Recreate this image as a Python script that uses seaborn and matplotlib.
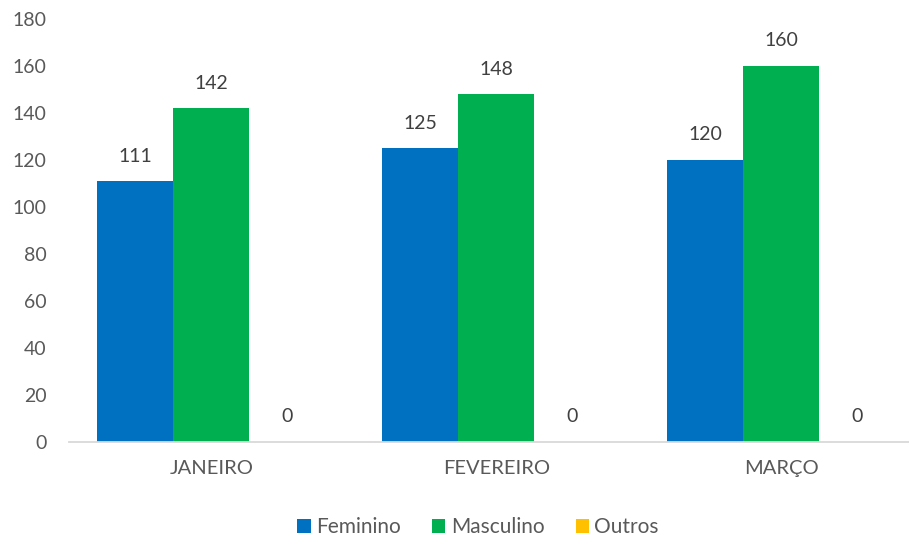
import matplotlib
matplotlib.use("Agg")
import matplotlib.pyplot as plt
import seaborn as sns
import pandas as pd
from matplotlib.patches import Patch

months = ["JANEIRO", "FEVEREIRO", "MARÇO"]
series = ["Feminino", "Masculino", "Outros"]
feminino = [111, 125, 120]
masculino = [142, 148, 160]
outros = [0, 0, 0]
colors = ["#0070C0", "#00B050", "#FFC000"]
yticks = [0, 20, 40, 60, 80, 100, 120, 140, 160, 180]

rows = []
for name, vals in zip(series, [feminino, masculino, outros]):
    for m, v in zip(months, vals):
        rows.append({"Mês": m, "Série": name, "Valor": v})
df = pd.DataFrame(rows)

sns.set_style("white")
plt.rcParams["font.family"] = ["Lato", "DejaVu Sans"]
txt = "#595959"

fig = plt.figure(figsize=(9.09, 5.43), dpi=100)
ax = fig.add_axes([69 / 909, 101 / 543, 855 / 909, 423 / 543])
sns.barplot(data=df, x="Mês", y="Valor", hue="Série", order=months,
            hue_order=series, palette=colors, width=0.8, saturation=1,
            ax=ax, legend=False, errorbar=None, linewidth=0)

for cont in ax.containers:
    for bar in cont:
        h = bar.get_height()
        ax.annotate(f"{int(h)}", (bar.get_x() + bar.get_width() / 2, h),
                    xytext=(0, 18), textcoords="offset points",
                    ha="center", va="center", fontsize=14, color="#404040")

ax.set_xlim(-0.5, 2.5)
ax.set_ylim(0, 180)
ax.set_yticks(yticks)
ax.set_yticklabels([str(t) for t in yticks])
ax.tick_params(axis="y", length=0, pad=16, labelsize=14, labelcolor=txt)
ax.tick_params(axis="x", length=0, pad=13, labelsize=14.5, labelcolor=txt)
ax.set_xlabel("")
ax.set_ylabel("")
for s in ["top", "right", "left"]:
    ax.spines[s].set_visible(False)
ax.spines["bottom"].set_color("#D9D9D9")
ax.spines["bottom"].set_linewidth(1.3)
ax.grid(False)

handles = [Patch(facecolor=c, edgecolor="none") for c in colors]
leg = fig.legend(handles, series, loc="center", bbox_to_anchor=(478 / 909, 1 - 527 / 543),
                 ncol=3, frameon=False, fontsize=15, handlelength=0.65,
                 handleheight=0.65, handletextpad=0.25, columnspacing=1.5)
for t in leg.get_texts():
    t.set_color(txt)

fig.savefig("out.png", dpi=100)
